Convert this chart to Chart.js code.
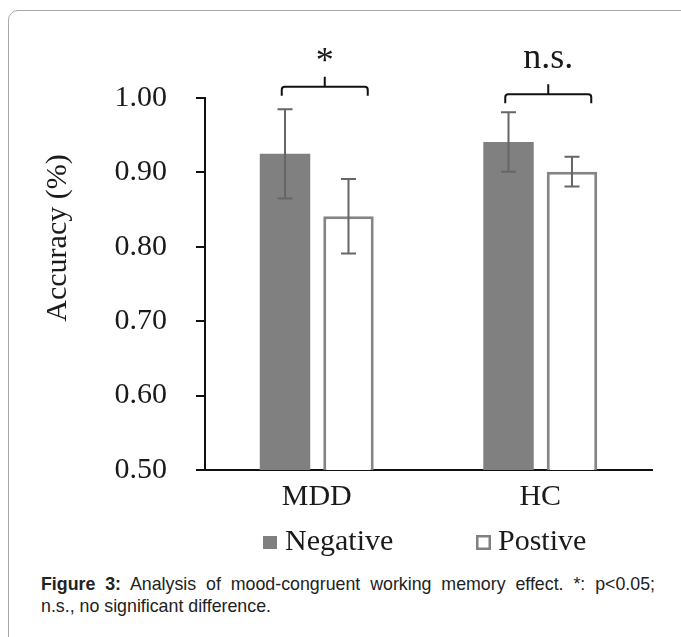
<!DOCTYPE html>
<html>
<head>
<meta charset="utf-8">
<script src="https://cdn.jsdelivr.net/npm/chart.js@4.4.1/dist/chart.umd.min.js"></script>
<style>
  body { margin: 0; width: 681px; height: 637px; overflow: hidden; background: #fff; position: relative; }
  #frame { position: absolute; left: 8px; top: 10px; width: 720px; height: 700px; border: 1px solid #a8a8a8; border-radius: 10px; }
  #wrap { position: absolute; left: 0; top: 0; width: 681px; height: 570px; }
  .cap { position: absolute; left: 41px; width: 614px; font-family: "Liberation Sans", Arial, sans-serif; font-size: 17.8px; line-height: 22px; color: #222; white-space: nowrap; }
  #cap1 { top: 573px; text-align: justify; text-align-last: justify; }
  #cap2 { top: 595px; }
</style>
</head>
<body>
<div id="frame"></div>
<div id="wrap"><canvas id="myChart" width="681" height="570"></canvas></div>
<div class="cap" id="cap1"><b>Figure 3:</b> Analysis of mood-congruent working memory effect. *: p&lt;0.05;</div>
<div class="cap" id="cap2">n.s., no significant difference.</div>
<script>
const groups = ["MDD", "HC"];
const negativeValues = [0.925, 0.941];
const negativeErrors = [0.06, 0.04];
const positiveValues = [0.841, 0.901];
const positiveErrors = [0.05, 0.02];
const sigLabels = ["*", "n.s."];
const bracketLevels = [1.015, 1.005];
const yTicks = [0.5, 0.6, 0.7, 0.8, 0.9, 1.0];

const serif = '"Liberation Serif", "Times New Roman", serif';
const textColor = "#1a1a1a";

// error bars, significance brackets, y title and legend
const extras = {
  id: "extras",
  afterDatasetsDraw(chart) {
    const ctx = chart.ctx;
    const x = chart.scales.x;
    const y = chart.scales.y;
    const errs = [negativeErrors, positiveErrors];

    ctx.save();
    ctx.strokeStyle = "#666";
    ctx.lineWidth = 2;
    chart.data.datasets.forEach((ds, d) => {
      chart.getDatasetMeta(d).data.forEach((bar, i) => {
        const v = ds.data[i];
        const top = y.getPixelForValue(v + errs[d][i]);
        const bot = y.getPixelForValue(v - errs[d][i]);
        ctx.beginPath();
        ctx.moveTo(bar.x, top);
        ctx.lineTo(bar.x, bot);
        ctx.moveTo(bar.x - 7.5, top);
        ctx.lineTo(bar.x + 7.5, top);
        ctx.moveTo(bar.x - 7.5, bot);
        ctx.lineTo(bar.x + 7.5, bot);
        ctx.stroke();
      });
    });

    // brackets
    const textOffsets = [15, 26];
    ctx.strokeStyle = "#111";
    ctx.lineWidth = 2;
    groups.forEach((g, i) => {
      const cx = x.getPixelForValue(i);
      const l = cx - 35, r = cx + 51, m = (l + r) / 2;
      const by = y.getPixelForValue(bracketLevels[i]);
      ctx.beginPath();
      ctx.moveTo(l, by + 9);
      ctx.lineTo(l, by + 3);
      ctx.quadraticCurveTo(l, by, l + 3, by);
      ctx.lineTo(r - 3, by);
      ctx.quadraticCurveTo(r, by, r, by + 3);
      ctx.lineTo(r, by + 9);
      ctx.moveTo(m, by);
      ctx.lineTo(m, by - 10);
      ctx.stroke();
      ctx.fillStyle = textColor;
      ctx.font = "36px " + serif;
      ctx.textAlign = "center";
      ctx.textBaseline = "alphabetic";
      ctx.fillText(sigLabels[i], m, by - textOffsets[i]);
    });

    // y axis title
    ctx.save();
    ctx.translate(66, 238);
    ctx.rotate(-Math.PI / 2);
    ctx.font = "30px " + serif;
    ctx.fillStyle = textColor;
    ctx.textAlign = "center";
    ctx.fillText("Accuracy (%)", 0, 0);
    ctx.restore();

    // legend
    ctx.font = "30px " + serif;
    ctx.textAlign = "left";
    ctx.fillStyle = "#808080";
    ctx.fillRect(263, 536, 14, 13);
    ctx.strokeStyle = "#808080";
    ctx.lineWidth = 2.5;
    ctx.strokeRect(477.25, 536.25, 12.5, 12.5);
    ctx.fillStyle = textColor;
    ctx.fillText(chart.data.datasets[0].label, 285, 550);
    ctx.fillText(chart.data.datasets[1].label, 498, 550);
    ctx.restore();
  }
};

const ctx = document.getElementById("myChart").getContext("2d");
const myChart = new Chart(ctx, {
  type: "bar",
  data: {
    labels: groups,
    datasets: [
      {
        label: "Negative",
        data: negativeValues,
        backgroundColor: "#808080",
        borderWidth: 0,
      },
      {
        label: "Postive",
        data: positiveValues,
        backgroundColor: "#ffffff",
        borderColor: "#858585",
        borderWidth: 3,
      },
    ],
  },
  options: {
    responsive: false,
    animation: false,
    devicePixelRatio: 1,
    categoryPercentage: 0.568,
    barPercentage: 0.795,
    layout: { padding: { top: 98, right: 29, bottom: 54, left: 0 } },
    plugins: { legend: { display: false }, tooltip: { enabled: false } },
    scales: {
      x: {
        grid: { display: false, drawTicks: false },
        border: { display: true, color: "#111", width: 2 },
        ticks: { color: textColor, font: { family: serif, size: 30 }, padding: 9 },
        afterFit: (s) => { s.height = 46; },
      },
      y: {
        min: 0.5,
        max: 1.0,
        afterBuildTicks: (s) => { s.ticks = yTicks.map((v) => ({ value: v })); },
        grid: { display: true, drawOnChartArea: false, drawTicks: true, tickLength: 9, color: "#111", lineWidth: 2 },
        border: { display: true, color: "#111", width: 2 },
        ticks: {
          color: textColor,
          font: { family: serif, size: 30 },
          padding: 29,
          callback: (v) => Number(v).toFixed(2),
        },
        afterFit: (s) => { s.width = 205; },
      },
    },
  },
  plugins: [extras],
});
</script>
</body>
</html>
